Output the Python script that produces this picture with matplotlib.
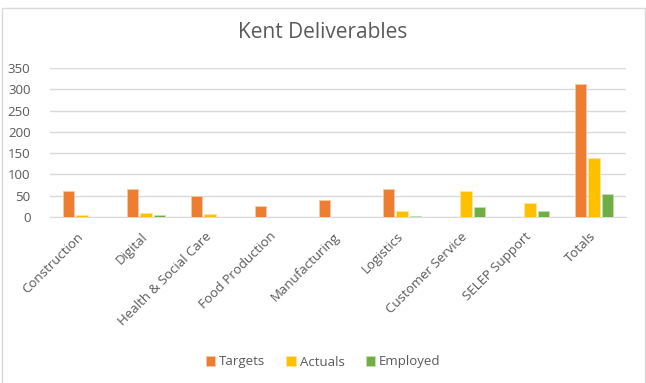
import numpy as np
import matplotlib.pyplot as plt
from matplotlib.patches import Rectangle
from matplotlib.transforms import ScaledTranslation

categories = ['Construction', 'Digital', 'Health & Social Care', 'Food Production',
              'Manufacturing', 'Logistics', 'Customer Service', 'SELEP Support', 'Totals']
targets = [61, 65, 49, 27, 40, 65, 0, 0, 312]
actuals = [4, 10, 7, 0, 0, 13, 61, 32, 138]
employed = [0, 4, 0, 0, 0, 3, 23, 13, 54]

plt.rcParams['font.family'] = ['Open Sans', 'DejaVu Sans']
grey = '#595959'

fig = plt.figure(figsize=(6.46, 3.83), dpi=100)
ax = fig.add_axes([50 / 646, 1 - 217 / 383, 576 / 646, 149 / 383])

x = np.arange(len(categories))
w = 0.18
off = 0.21
ax.bar(x - off, targets, w, color='#ED7D31', edgecolor='#f8c8a8', linewidth=0.6, label='Targets', zorder=3)
ax.bar(x, actuals, w, color='#FFC000', edgecolor='#ffe699', linewidth=0.6, label='Actuals', zorder=3)
ax.bar(x + off, employed, w, color='#70AD47', edgecolor='#c5e0b4', linewidth=0.6, label='Employed', zorder=3)

ax.set_xlim(-0.5, len(categories) - 0.5)
ax.set_ylim(0, 350)
ax.set_yticks(range(0, 351, 50))
ax.grid(axis='y', color='#d9d9d9', linewidth=1.0, zorder=0)
for s in ['top', 'right', 'left']:
    ax.spines[s].set_visible(False)
ax.spines['bottom'].set_color('#d9d9d9')
ax.tick_params(axis='both', length=0, colors=grey, labelsize=9.5)
ax.tick_params(axis='y', pad=14)
ax.set_xticks(x)
ax.set_xticklabels(categories, rotation=45, ha='right', rotation_mode='anchor')
shift = ScaledTranslation(-5 / 100, -8 / 100, fig.dpi_scale_trans)
for lbl in ax.get_xticklabels():
    lbl.set_transform(lbl.get_transform() + shift)

fig.text(0.5, 1 - 32 / 383, 'Kent Deliverables', ha='center', va='center', fontsize=15, color=grey)

leg = fig.legend(loc='center', bbox_to_anchor=(0.5, 1 - 362 / 383), ncol=3, frameon=False,
                 fontsize=9.5, handlelength=0.7, handleheight=0.7, handletextpad=0.3, columnspacing=1.6)
for t in leg.get_texts():
    t.set_color(grey)

fig.patches.append(Rectangle((2 / 646, -0.01), 643 / 646, 1 - 8 / 383 + 0.01, transform=fig.transFigure,
                             fill=False, edgecolor='#d9d9d9', linewidth=1.0))

fig.savefig('out.png', dpi=100)
